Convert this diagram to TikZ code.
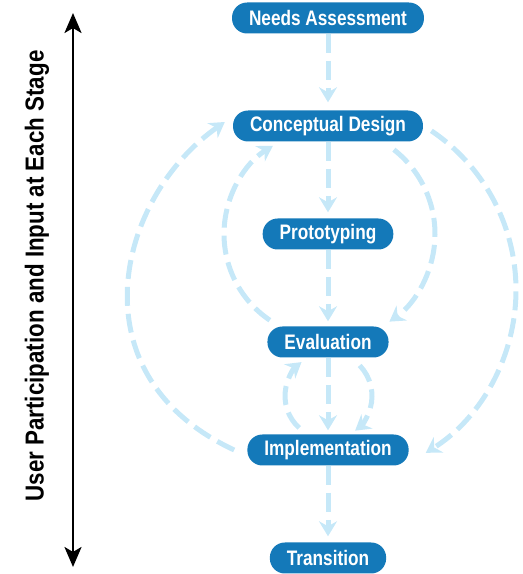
\documentclass[tikz,border=0pt]{standalone}
\usepackage{fontspec}
\setmainfont{Liberation Sans}
\newfontfamily\boxfont{Liberation Sans}[FakeStretch=0.82]
\newfontfamily\sidefont{Liberation Sans}[FakeStretch=0.86]
\usetikzlibrary{arrows.meta,calc}
\definecolor{boxblue}{RGB}{20,121,185}
\definecolor{flowblue}{RGB}{198,232,248}
\begin{document}
\begin{tikzpicture}[x=1pt,y=1pt,
  stage/.style={fill=boxblue, text=white, rounded corners=15pt, minimum height=31pt,
    inner xsep=17pt, inner ysep=0pt, font=\boxfont\bfseries\fontsize{21}{24}\selectfont},
  flow/.style={draw=flowblue, line width=5pt, dash pattern=on 19pt off 8pt,
    -{Stealth[length=15pt,width=18pt,inset=5pt]}},
  sidearrow/.style={draw=black, line width=2.5pt,
    {Stealth[length=20pt,width=17pt,inset=5pt]}-{Stealth[length=20pt,width=17pt,inset=5pt]}}
]
\useasboundingbox (0,0) rectangle (523,574);

\node[stage] (needs) at (328,556) {Needs Assessment};
\node[stage] (concept) at (328,448) {Conceptual Design};
\node[stage] (proto) at (328,340) {Prototyping};
\node[stage] (eval) at (328,232) {Evaluation};
\node[stage] (impl) at (328,124) {Implementation};
\node[stage] (trans) at (328,16) {Transition};

% straight flow
\draw[flow, shorten >=8pt] (needs) -- (concept);
\draw[flow, shorten >=6pt] (concept) -- (proto);
\draw[flow, shorten >=5pt] (proto) -- (eval);
\draw[flow, shorten >=4pt] (eval) -- (impl);
\draw[flow, shorten >=6pt] (impl) -- (trans);

% inner arcs around prototyping
\draw[flow] ($(proto)+(52:107pt)$) arc[start angle=52, end angle=-55, radius=107pt];
\draw[flow] ($(proto)+(236:104pt)$) arc[start angle=236, end angle=122, radius=104pt];

% small arcs between evaluation and implementation
\coordinate (mid) at ($(eval)!0.5!(impl)$);
\draw[flow] ($(mid)+(44:44pt)$) arc[start angle=44, end angle=-52, radius=44pt];
\draw[flow] ($(mid)+(228:43pt)$) arc[start angle=228, end angle=128, radius=43pt];

% big arcs
\coordinate (bigc) at ($(concept)!0.5!(impl)+(-4,-2)$);
\draw[flow] ($(bigc)+(56:192pt)$) arc[start angle=56, end angle=-58, radius=192pt];
\draw[flow] ([xshift=-13pt]impl.west) to[out=155, in=215, out distance=178pt, in distance=132pt] ([xshift=-8pt,yshift=4pt]concept.west);

% side arrow and label
\coordinate (stop) at (73,561);
\coordinate (sbot) at (73,7);
\draw[sidearrow] (sbot) -- (stop);
\node[rotate=90, font=\sidefont\bfseries\fontsize{26}{30}\selectfont] (side) at (37,298) {User Participation and Input at Each Stage};
\end{tikzpicture}
\end{document}
